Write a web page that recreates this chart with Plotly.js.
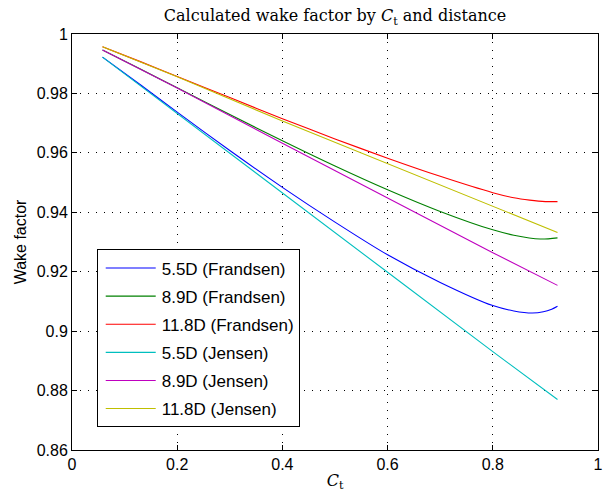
<!DOCTYPE html>
<html>
<head>
<meta charset="utf-8">
<script src="https://cdn.plot.ly/plotly-3.0.1.min.js"></script>
<style>html,body{margin:0;padding:0;background:#fff;}#chart{width:604px;height:495px;}</style>
</head>
<body>
<div id="chart"></div>
<script>
// Frandsen model curves
const xFr55 = [0.058, 0.13, 0.2, 0.3, 0.4, 0.5, 0.6, 0.7, 0.8, 0.84, 0.875, 0.896, 0.912, 0.923];
const yFr55 = [0.9922, 0.9829, 0.9737, 0.9608, 0.9484, 0.9367, 0.9257, 0.9164, 0.9086, 0.9068, 0.9061, 0.9065, 0.9074, 0.9084];
const xFr89 = [0.058, 0.13, 0.2, 0.3, 0.4, 0.5, 0.6, 0.7, 0.8, 0.84, 0.89, 0.923];
const yFr89 = [0.9946, 0.9882, 0.9819, 0.9729, 0.9641, 0.9556, 0.9476, 0.9403, 0.9341, 0.9323, 0.9310, 0.9314];
const xFr118 = [0.058, 0.13, 0.2, 0.3, 0.4, 0.5, 0.6, 0.7, 0.8, 0.84, 0.87, 0.9, 0.923];
const yFr118 = [0.9957, 0.9907, 0.9857, 0.9786, 0.9715, 0.9647, 0.9582, 0.9521, 0.9466, 0.9449, 0.9441, 0.9436, 0.9436];
// Jensen model lines
const xJe = [0.058, 0.2, 0.4, 0.6, 0.8, 0.923];
const yJe55 = [0.9922, 0.9733, 0.9464, 0.9198, 0.8931, 0.8770];
const yJe89 = [0.9946, 0.9818, 0.9632, 0.9447, 0.9264, 0.9154];
const yJe118 = [0.9957, 0.9856, 0.9707, 0.9564, 0.9419, 0.9332];

const names = ['5.5D (Frandsen)', '8.9D (Frandsen)', '11.8D (Frandsen)', '5.5D (Jensen)', '8.9D (Jensen)', '11.8D (Jensen)'];
const colors = ['#0000ff', '#008000', '#ff0000', '#00bfbf', '#bf00bf', '#bfbf00'];
const xTicks = [0, 0.2, 0.4, 0.6, 0.8, 1];
const xTickText = ['0', '0.2', '0.4', '0.6', '0.8', '1'];
const yTicks = [0.86, 0.88, 0.9, 0.92, 0.94, 0.96, 0.98, 1];
const yTickText = ['0.86', '0.88', '0.9', '0.92', '0.94', '0.96', '0.98', '1'];

const xs = [xFr55, xFr89, xFr118, xJe, xJe, xJe];
const ys = [yFr55, yFr89, yFr118, yJe55, yJe89, yJe118];

const traces = names.map((n, i) => ({
  x: xs[i], y: ys[i], name: n, type: 'scatter', mode: 'lines',
  legendgroup: 'g' + i,
  line: {color: colors[i], width: 1.1, shape: i < 3 ? 'spline' : 'linear', smoothing: 0.8}
}));

const axisCommon = {
  showline: true, linecolor: '#000', linewidth: 1, mirror: 'ticks',
  ticks: 'inside', ticklen: 5, tickcolor: '#000', tickwidth: 1,
  showgrid: true, gridcolor: '#000', gridwidth: 1, griddash: '1px,7px',
  zeroline: false,
  tickfont: {family: 'Liberation Sans, Arial, sans-serif', size: 16, color: '#000'}
};

const layout = {
  width: 604, height: 495,
  margin: {l: 72, r: 6, t: 34, b: 45},
  paper_bgcolor: '#fff', plot_bgcolor: '#fff',
  showlegend: true,
  title: {
    text: 'Calculated wake factor by <i>C</i><sub>t</sub> and distance',
    font: {family: 'DejaVu Serif, Liberation Serif, serif', size: 16, color: '#000'},
    xref: 'paper', x: 0.5, xanchor: 'center', y: 0.968, yanchor: 'middle'
  },
  xaxis: Object.assign({}, axisCommon, {
    range: [0, 1], tickvals: xTicks, ticktext: xTickText,
    title: {text: '<i>C</i><sub>t</sub>', font: {family: 'DejaVu Serif, Liberation Serif, serif', size: 16, color: '#000'}, standoff: 2}
  }),
  yaxis: Object.assign({}, axisCommon, {
    range: [0.86, 1], tickvals: yTicks, ticktext: yTickText,
    title: {text: 'Wake factor', font: {family: 'Liberation Sans, Arial, sans-serif', size: 16, color: '#000'}, standoff: 6}
  }),
  legend: {
    x: 0.047, y: 0.482, xanchor: 'left', yanchor: 'top',
    bgcolor: '#fff', bordercolor: '#000', borderwidth: 1,
    font: {family: 'Liberation Sans, Arial, sans-serif', size: 17, color: '#000'},
    tracegroupgap: 3, traceorder: 'grouped', itemwidth: 54
  }
};

Plotly.newPlot('chart', traces, layout, {displayModeBar: false, staticPlot: true}).then(function () {
  document.querySelectorAll('.legend .legendlines path').forEach(function (p) {
    p.setAttribute('d', 'M8,0h50');
  });
});
</script>
</body>
</html>
